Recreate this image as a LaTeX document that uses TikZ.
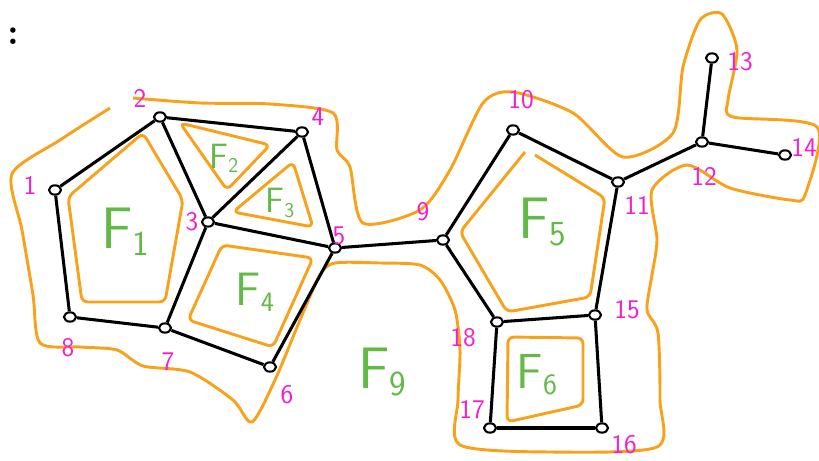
\documentclass[tikz,border=0pt]{standalone}
\usepackage{tikz}
\usetikzlibrary{shapes.geometric}
\definecolor{SketchOrange}{HTML}{F9A11B}
\definecolor{SketchPink}{HTML}{F01FD0}
\definecolor{SketchGreen}{HTML}{62B946}
\newcommand{\facename}[1]{F\raisebox{-0.12em}{\fontsize{0.6em}{0.6em}\selectfont #1}}

\begin{document}
\begin{tikzpicture}[
      x=0.03cm,y=-0.03cm,
      vtx/.style={draw=black,fill=white,ellipse,line width=1.8pt,inner sep=0pt,minimum width=0.36cm,minimum height=0.28cm},
      vlbl/.style={text=SketchPink,font=\fontsize{23}{23}\sffamily},
      flbl/.style={text=SketchGreen,font=\fontsize{50}{50}\sffamily},
      lnk/.style={line width=2.6pt,black},
      rim/.style={SketchOrange,line width=2.5pt,rounded corners=5pt}
    ]
      \useasboundingbox (0,0) rectangle (819,461);
      \node[font=\fontsize{32}{32}\bfseries] (colon) at (13,36) {:};

      % face outlines
      \draw[rim] (68,197) -- (143,133) -- (183,200) -- (165,302) -- (82,302) -- cycle;
      \draw[rim] (180,123) -- (270,145) -- (227,190) -- cycle;
      \draw[rim] (293,162) -- (313,227) -- (233,212) -- cycle;
      \draw[rim] (222,245) -- (313,258) -- (273,347) -- (188,320) -- cycle;
      \draw[rim] (525,152) -- (460,232) -- (507,312) -- (590,297) -- (605,198) -- (535,155);
      \draw[rim] (508,337) -- (583,338) -- (583,405) -- (507,422) -- cycle;
      \draw[SketchOrange,line width=2.5pt] plot[smooth,tension=0.45] coordinates {
        (110,108) (60,140) (12,174) (22,230) (33,295) (40,343) (80,347) (117,350)
        (143,366) (190,372) (233,400) (252,422) (275,380) (300,320) (320,275)
        (335,263) (380,263) (420,265) (440,280) (455,310) (460,350) (458,400)
        (460,445) (550,452) (657,447) (660,400) (658,333) (647,310) (652,275)
        (657,240) (652,190) (687,165) (730,188) (790,200) (805,195) (817,127)
        (733,117) (728,100) (737,50) (722,14) (700,20) (683,67) (673,133)
        (623,157) (573,113) (513,92) (483,103) (450,170) (420,210) (363,223)
        (350,167) (337,150) (333,113) (270,104) (200,103) (133,98)
      };

      % vertices
      \node[vtx] (v1) at (55,190) {};
      \node[vtx] (v2) at (160,117) {};
      \node[vtx] (v3) at (208,222) {};
      \node[vtx] (v4) at (302,132) {};
      \node[vtx] (v5) at (335,248) {};
      \node[vtx] (v6) at (270,367) {};
      \node[vtx] (v7) at (165,328) {};
      \node[vtx] (v8) at (70,317) {};
      \node[vtx] (v9) at (443,240) {};
      \node[vtx] (v10) at (513,130) {};
      \node[vtx] (v11) at (618,182) {};
      \node[vtx] (v12) at (702,142) {};
      \node[vtx] (v13) at (712,58) {};
      \node[vtx] (v14) at (785,155) {};
      \node[vtx] (v15) at (595,315) {};
      \node[vtx] (v16) at (602,428) {};
      \node[vtx] (v17) at (490,428) {};
      \node[vtx] (v18) at (497,322) {};

      % vertex numbers
      \node[vlbl] (n1) at (30,185) {1};
      \node[vlbl] (n2) at (140,98) {2};
      \node[vlbl] (n3) at (192,222) {3};
      \node[vlbl] (n4) at (318,117) {4};
      \node[vlbl] (n5) at (339,236) {5};
      \node[vlbl] (n6) at (287,395) {6};
      \node[vlbl] (n7) at (168,362) {7};
      \node[vlbl] (n8) at (68,348) {8};
      \node[vlbl] (n9) at (423,212) {9};
      \node[vlbl] (n10) at (521,100) {10};
      \node[vlbl] (n11) at (637,205) {11};
      \node[vlbl] (n12) at (704,176) {12};
      \node[vlbl] (n13) at (740,62) {13};
      \node[vlbl] (n14) at (804,147) {14};
      \node[vlbl] (n15) at (627,310) {15};
      \node[vlbl] (n16) at (624,445) {16};
      \node[vlbl] (n17) at (472,410) {17};
      \node[vlbl] (n18) at (463,338) {18};

      % edges
      \draw[lnk] (v1) -- (v2);
      \draw[lnk] (v1) -- (v8);
      \draw[lnk] (v2) -- (v3);
      \draw[lnk] (v2) -- (v4);
      \draw[lnk] (v3) -- (v4);
      \draw[lnk] (v3) -- (v5);
      \draw[lnk] (v4) -- (v5);
      \draw[lnk] (v3) -- (v7);
      \draw[lnk] (v7) -- (v8);
      \draw[lnk] (v7) -- (v6);
      \draw[lnk] (v5) -- (v6);
      \draw[lnk] (v5) -- (v9);
      \draw[lnk] (v9) -- (v10);
      \draw[lnk] (v10) -- (v11);
      \draw[lnk] (v11) -- (v12);
      \draw[lnk] (v12) -- (v13);
      \draw[lnk] (v12) -- (v14);
      \draw[lnk] (v11) -- (v15);
      \draw[lnk] (v9) -- (v18);
      \draw[lnk] (v18) -- (v15);
      \draw[lnk] (v18) -- (v17);
      \draw[lnk] (v17) -- (v16);
      \draw[lnk] (v15) -- (v16);

      % face names
      \node[flbl] (f1) at (125,232) {\facename{1}};
      \node[flbl,font=\fontsize{30}{30}\sffamily] (f2) at (224,158) {\facename{2}};
      \node[flbl,font=\fontsize{30}{30}\sffamily] (f3) at (280,203) {\facename{3}};
      \node[flbl,font=\fontsize{40}{40}\sffamily] (f4) at (255,292) {\facename{4}};
      \node[flbl] (f5) at (542,222) {\facename{5}};
      \node[flbl,font=\fontsize{42}{42}\sffamily] (f6) at (537,375) {\facename{6}};
      \node[flbl] (f9) at (382,372) {\facename{9}};
    \end{tikzpicture}
\end{document}
